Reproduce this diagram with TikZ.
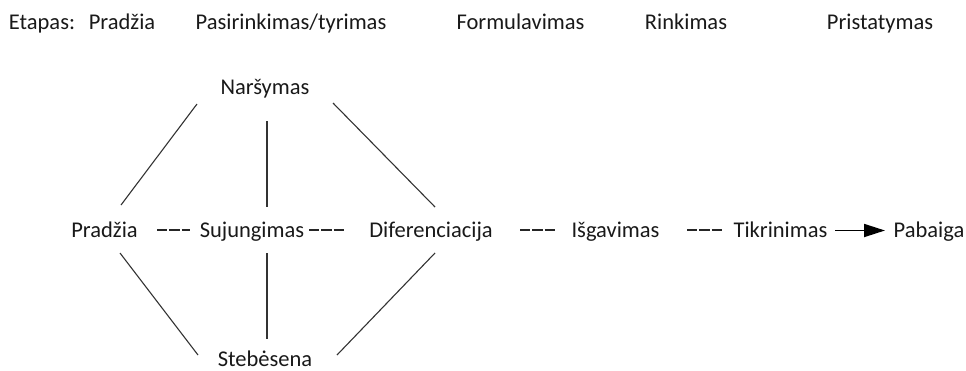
\documentclass[tikz,border=0pt]{standalone}
\usepackage{fontspec}
\setmainfont{Carlito}
\usetikzlibrary{arrows.meta}
\begin{document}
\begin{tikzpicture}[x=1pt,y=-1pt,
  lbl/.style={anchor=base,inner sep=0pt,font=\fontsize{22.5}{27}\selectfont,text=black!90},
  link/.style={draw=black!80,line width=1.1pt},
  dashlink/.style={draw=black!85,line width=1.5pt,dash pattern=on 10.3pt off 2pt},
  flow/.style={draw=black,line width=1.8pt,-{Triangle[length=21pt,width=13pt]}}]
\useasboundingbox (0,0) rectangle (966,370);

% stage headings
\node[lbl] (etapas) at (42,29) {Etapas:};
\node[lbl] (hpradzia) at (122,29) {Pradžia};
\node[lbl] (hpasirinkimas) at (291,29) {Pasirinkimas/tyrimas};
\node[lbl] (hformulavimas) at (520.5,29) {Formulavimas};
\node[lbl] (hrinkimas) at (686,29) {Rinkimas};
\node[lbl] (hpristatymas) at (880,29) {Pristatymas};

% activities
\node[lbl] (narsymas) at (265,94) {Naršymas};
\node[lbl] (pradzia) at (104.5,237) {Pradžia};
\node[lbl] (sujungimas) at (252,237) {Sujungimas};
\node[lbl] (diferenciacija) at (431,237) {Diferenciacija};
\node[lbl] (isgavimas) at (615.5,237) {Išgavimas};
\node[lbl] (tikrinimas) at (780.5,237) {Tikrinimas};
\node[lbl] (pabaiga) at (929,237) {Pabaiga};
\node[lbl] (stebesena) at (265,366) {Stebėsena};

% upper links
\draw[link] ([shift={(-68,10)}]narsymas.base) -- ([shift={(16.5,-32)}]pradzia.base);
\draw[link] ([shift={(2,27)}]narsymas.base) -- ([shift={(15,-30)}]sujungimas.base);
\draw[link] ([shift={(68,9)}]narsymas.base) -- ([shift={(4,-30)}]diferenciacija.base);

% lower links
\draw[link] ([shift={(15.5,16)}]pradzia.base) -- ([shift={(-67,-11)}]stebesena.base);
\draw[link] ([shift={(15,16)}]sujungimas.base) -- ([shift={(2,-27)}]stebesena.base);
\draw[link] ([shift={(4,16)}]diferenciacija.base) -- ([shift={(72,-11)}]stebesena.base);

% dashed sequence
\draw[dashlink] ([shift={(52.5,-7)}]pradzia.base) -- ([shift={(-62,-7)}]sujungimas.base);
\draw[dashlink] ([shift={(57,-7)}]sujungimas.base) -- ([shift={(-86,-7)}]diferenciacija.base);
\draw[dashlink] ([shift={(89,-7)}]diferenciacija.base) -- ([shift={(-60.5,-7)}]isgavimas.base);
\draw[dashlink] ([shift={(71.5,-7)}]isgavimas.base) -- ([shift={(-58.5,-7)}]tikrinimas.base);

% final step
\draw[flow] ([shift={(54.5,-6.5)}]tikrinimas.base) -- ([shift={(-44,-6.5)}]pabaiga.base);
\end{tikzpicture}
\end{document}
